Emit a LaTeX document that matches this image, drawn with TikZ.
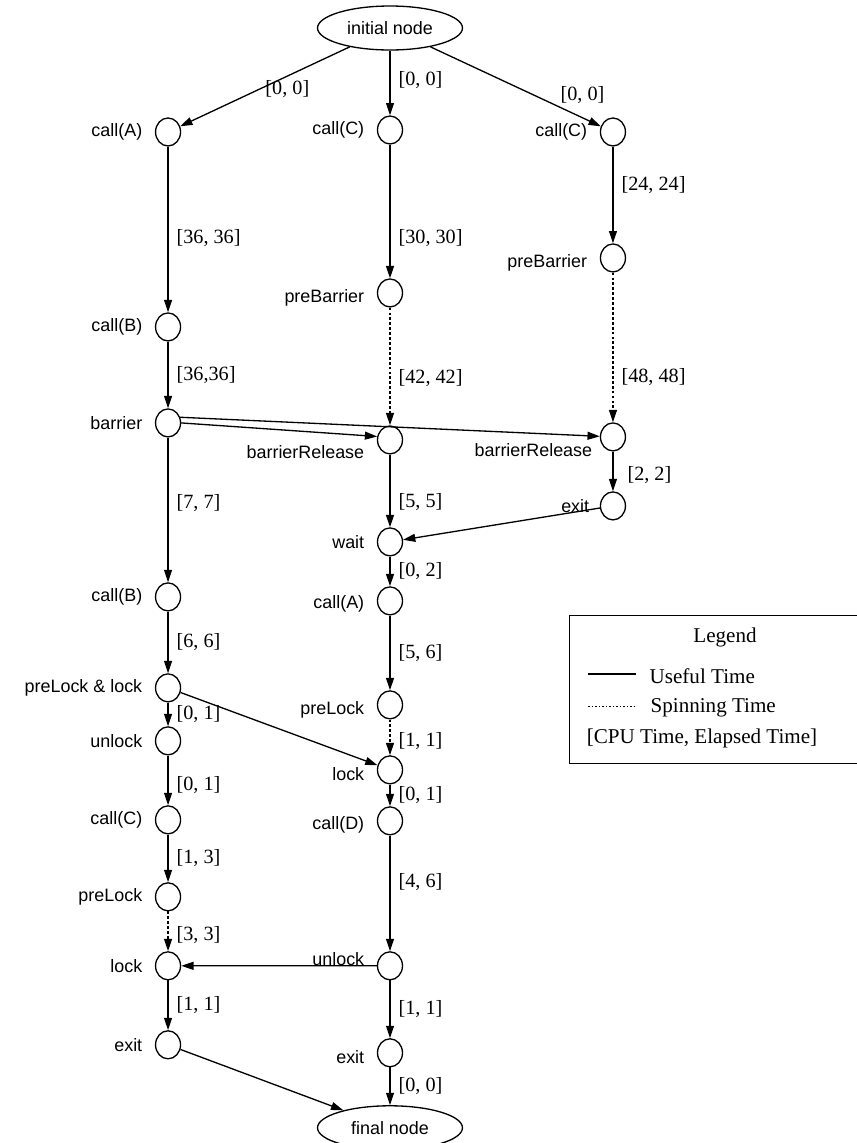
\documentclass[tikz,border=0pt]{standalone}
\usepackage{fontspec}
\setmainfont{Liberation Serif}
\setsansfont{Liberation Sans}
\usetikzlibrary{shapes.geometric,arrows.meta}

\begin{document}
\begin{tikzpicture}[
x=0.02cm, y=-0.02cm, node distance=1cm, line width=0.75pt,
>={Triangle[length=7pt,width=4.5pt]},
state/.style={ellipse, draw, minimum width=0.5cm, minimum height=0.56cm, inner sep=0pt},
term/.style={ellipse, draw, minimum width=2.9cm, minimum height=0.88cm, inner sep=0pt, font=\sffamily\fontsize{10.2}{12}\selectfont},
every label/.style={font=\sffamily\fontsize{10.2}{12}\selectfont, inner sep=0pt},
label distance=0.24cm,
cost/.style={right, inner sep=4.5pt, font=\fontsize{11.5}{13}\selectfont},
spin/.style={dash pattern=on 1.6pt off 1.2pt},
legtext/.style={inner sep=0pt, font=\fontsize{12}{14}\selectfont}
]
\useasboundingbox (0,0) rectangle (857,1143);
%Nodes
\node[term]      (init)   at (390,28)                                    {initial node};
\node[state, label=left:call(A)]      (a1)  [below of=init, xshift=-4.44cm, yshift=-1.08cm] {};
\node[state, label=left:call(C)]      (b1)  [below of=init, yshift=-1.04cm]                 {};
\node[state, label=left:call(C)]      (c1)  [below of=init, xshift=4.46cm, yshift=-1.08cm]  {};
% left column
\node[state, label=left:call(B)]      (a2)  [below of=a1, yshift=-2.9cm]   {};
\node[state, label=left:barrier]      (a3)  [below of=a2, yshift=-0.92cm]  {};
\node[state, label=left:call(B)]      (a4)  [below of=a3, yshift=-2.48cm]  {};
\node[state, label=left:preLock \& lock] (a5) [below of=a4, yshift=-0.82cm] {};
\node[state, label=left:unlock]       (a6)  [below of=a5, yshift=-0.06cm]  {};
\node[state, label=left:call(C)]      (a7)  [below of=a6, yshift=-0.58cm]  {};
\node[state, label=left:preLock]      (a8)  [below of=a7, yshift=-0.54cm]  {};
\node[state, label=left:lock]         (a9)  [below of=a8, yshift=-0.38cm]  {};
\node[state, label=left:exit]         (a10) [below of=a9, yshift=-0.58cm]  {};
% middle column
\node[state, label={[yshift=-0.1cm]left:preBarrier}]      (b2)  [below of=b1, yshift=-2.26cm] {};
\node[state, label={[yshift=-0.24cm]left:barrierRelease}] (b3)  [below of=b2, yshift=-1.94cm] {};
\node[state, label=left:wait]                             (b4)  [below of=b3, yshift=-1.04cm] {};
\node[state, label={[yshift=-0.06cm]left:call(A)}]        (b5)  [below of=b4, yshift=-0.18cm] {};
\node[state, label={[yshift=-0.1cm]left:preLock}]         (b6)  [below of=b5, yshift=-1.08cm] {};
\node[state, label={[yshift=-0.08cm]left:lock}]           (b7)  [below of=b6, yshift=-0.3cm]  {};
\node[state, label={[yshift=-0.08cm]left:call(D)}]        (b8)  [below of=b7, yshift=-0.02cm] {};
\node[state, label={[yshift=0.14cm]left:unlock}]          (b9)  [below of=b8, yshift=-1.9cm]  {};
\node[state, label={[yshift=-0.08cm]left:exit}]           (b10) [below of=b9, yshift=-0.74cm] {};
\node[term]                                               (fin) [below of=b10, yshift=-0.5cm] {final node};
% right column
\node[state, label={[yshift=-0.1cm]left:preBarrier}]                    (c2) [below of=c1, yshift=-1.52cm] {};
\node[state, label={[yshift=-0.26cm, xshift=0.1cm]left:barrierRelease}] (c3) [below of=c2, yshift=-2.58cm] {};
\node[state, label={[xshift=0.04cm]left:exit}]                          (c4) [below of=c3, yshift=-0.38cm] {};
%Lines
\draw[->] (init) -- (a1) node [cost, midway, xshift=-0.16cm, yshift=-0.04cm] {[0, 0]};
\draw[->] (init) -- (b1) node [cost, pos=0.45] {[0, 0]};
\draw[->] (init) -- (c1) node [cost, pos=0.75, anchor=south west, inner sep=1pt] {[0, 0]};
\draw[->] (a1) -- (a2) node [cost, pos=0.55] {[36, 36]};
\draw[->] (a2) -- (a3) node [cost, midway] {[36,36]};
\draw[->] (a3) -- (a4) node [cost, pos=0.45] {[7, 7]};
\draw[->] (a4) -- (a5) node [cost, midway] {[6, 6]};
\draw[->] (a5) -- (a6) node [cost, midway] {[0, 1]};
\draw[->] (a6) -- (a7) node [cost, pos=0.6] {[0, 1]};
\draw[->] (a7) -- (a8) node [cost, midway] {[1, 3]};
\draw[->, spin] (a8) -- (a9) node [cost, pos=0.6] {[3, 3]};
\draw[->] (a9) -- (a10) node [cost, midway] {[1, 1]};
\draw[->] (a10) -- (fin);
\draw[->] (b1) -- (b2) node [cost, pos=0.7] {[30, 30]};
\draw[->, spin] (b2) -- (b3) node [cost, pos=0.6] {[42, 42]};
\draw[->] (b3) -- (b4) node [cost, pos=0.65] {[5, 5]};
\draw[->] (b4) -- (b5) node [cost, midway] {[0, 2]};
\draw[->] (b5) -- (b6) node [cost, midway] {[5, 6]};
\draw[->, spin] (b6) -- (b7) node [cost, pos=0.6] {[1, 1]};
\draw[->] (b7) -- (b8) node [cost, midway] {[0, 1]};
\draw[->] (b8) -- (b9) node [cost, pos=0.4] {[4, 6]};
\draw[->] (b9) -- (b10) node [cost, midway] {[1, 1]};
\draw[->] (b10) -- (fin) node [cost, midway] {[0, 0]};
\draw[->] (c1) -- (c2) node [cost, pos=0.4] {[24, 24]};
\draw[->, spin] (c2) -- (c3) node [cost, pos=0.7] {[48, 48]};
\draw[->] (c3) -- (c4) node [cost, pos=0.6, xshift=0.12cm] {[2, 2]};
\draw[->] (a3.25) -- (c3);
\draw[->] (a3.east) -- (b3.165);
\draw[->] (c4) -- (b4);
\draw[->] (a5) -- (b7);
\draw[->] (b9) -- (a9);
%Legend
\node[draw, minimum width=5.9cm, minimum height=2.96cm, anchor=north west] (legend) at (569,615) {};
\node[legtext]               (legT)  at (725,637) {Legend};
\coordinate (use1) at (588,674);
\coordinate (use2) at (636,674);
\draw (use1) -- (use2);
\node[legtext, anchor=west]  (useT)  at (649,676) {Useful Time};
\coordinate (spn1) at (588,706);
\coordinate (spn2) at (636,706);
\draw[line width=0.5pt, dash pattern=on 1pt off 1pt] (spn1) -- (spn2);
\node[legtext, anchor=west]  (spnT)  at (650,708) {Spinning Time};
\node[legtext]               (cpuT)  at (702,738) {[CPU Time, Elapsed Time]};
\end{tikzpicture}
\end{document}
